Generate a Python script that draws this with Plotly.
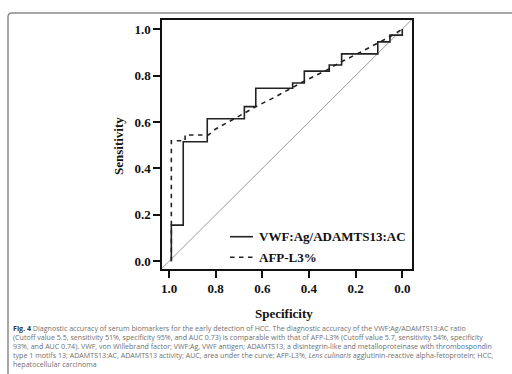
import plotly.graph_objects as go

# ---- data ----
series_names = ["VWF:Ag/ADAMTS13:AC", "AFP-L3%"]

vwf_spec = [0.99, 0.99, 0.939, 0.939, 0.836, 0.836, 0.677, 0.677, 0.628, 0.628, 0.47, 0.47,
            0.42, 0.42, 0.313, 0.313, 0.26, 0.26, 0.105, 0.105, 0.053, 0.053, 0.0, 0.0]
vwf_sens = [0.0, 0.156, 0.156, 0.515, 0.515, 0.614, 0.614, 0.666, 0.666, 0.745, 0.745, 0.768,
            0.768, 0.819, 0.819, 0.845, 0.845, 0.893, 0.893, 0.945, 0.945, 0.974, 0.974, 1.0]

afp_spec = [0.99, 0.99, 0.931, 0.931, 0.831, 0.80, 0.70, 0.628, 0.55, 0.47, 0.42, 0.33,
            0.26, 0.18, 0.103, 0.048, 0.0]
afp_sens = [0.0, 0.519, 0.519, 0.544, 0.544, 0.57, 0.625, 0.666, 0.705, 0.748, 0.776, 0.82,
            0.86, 0.90, 0.941, 0.97, 1.0]

diag_spec = [1.2, -0.2]
diag_sens = [1 - v for v in diag_spec]

tick_vals = [1.0, 0.8, 0.6, 0.4, 0.2, 0.0]
tick_text = ["1.0", "0.8", "0.6", "0.4", "0.2", "0.0"]

caption_lines = [
    "<span style='color:#333'><b>Fig. 4</b></span> Diagnostic accuracy of serum biomarkers for the early detection of HCC. The diagnostic accuracy of the VWF:Ag/ADAMTS13:AC ratio",
    "(Cutoff value 5.5, sensitivity 51%, specificity 95%, and AUC 0.73) is comparable with that of AFP-L3% (Cutoff value 5.7, sensitivity 54%, specificity",
    "93%, and AUC 0.74). VWF, von Willebrand factor; VWF:Ag, VWF antigen; ADAMTS13, a disintegrin-like and metalloproteinase with <span style='color:#4a76a8'>thrombospondin</span>",
    "type <span style='color:#4a76a8'>1</span> motifs 13; ADAMTS13:AC, ADAMTS13 activity; AUC, area under the curve; AFP-L3%, <i>Lens culinaris</i> agglutinin-reactive alpha-fetoprotein; HCC,",
    "hepatocellular carcinoma",
]

# ---- layout geometry (pixels) ----
W, H = 512, 374
PL, PR, PT, PB = 162, 412, 20, 269


def px2x(px):
    return (px - PL) / (PR - PL)


def py2y(py):
    return (PB - py) / (PB - PT)


SERIF = "Liberation Serif"
SANS = "Open Sans"
LINE_COLOR = "#222222"

fig = go.Figure()
fig.add_trace(go.Scatter(x=diag_spec, y=diag_sens, mode="lines",
                         line=dict(color="#9a9a9a", width=1), showlegend=False, hoverinfo="skip"))
fig.add_trace(go.Scatter(x=vwf_spec, y=vwf_sens, mode="lines", name=series_names[0],
                         line=dict(color=LINE_COLOR, width=1.6), showlegend=False))
fig.add_trace(go.Scatter(x=afp_spec, y=afp_sens, mode="lines", name=series_names[1],
                         line=dict(color=LINE_COLOR, width=1.6, dash="4.5px,4.5px"), showlegend=False))

axis_common = dict(
    showgrid=False, zeroline=False, showline=True, mirror=True,
    linecolor="#111", linewidth=1.5,
    ticks="outside", ticklen=7, tickwidth=1.5, tickcolor="#111",
    tickvals=tick_vals, ticktext=tick_text,
    tickfont=dict(family=SERIF, size=13, color="#111", weight="bold"),
)
fig.update_xaxes(range=[1.030, -0.0416], **axis_common)
fig.update_yaxes(range=[-0.033, 1.039], **axis_common)

annotations = []
# axis titles
annotations.append(dict(text="<b>Specificity</b>", x=px2x(284), y=py2y(313), xref="paper", yref="paper",
                        showarrow=False, xanchor="center", yanchor="middle",
                        font=dict(family=SERIF, size=13, color="#111")))
annotations.append(dict(text="<b>Sensitivity</b>", x=px2x(118), y=py2y(146), xref="paper", yref="paper",
                        showarrow=False, xanchor="center", yanchor="middle", textangle=-90,
                        font=dict(family=SERIF, size=13, color="#111")))
# legend
legend_rows = [(236.7, "solid"), (257.3, "4.5px,4.5px")]
shapes = []
for name, (ly, dash) in zip(series_names, legend_rows):
    shapes.append(dict(type="line", xref="paper", yref="paper",
                       x0=px2x(230), x1=px2x(253), y0=py2y(ly), y1=py2y(ly),
                       line=dict(color=LINE_COLOR, width=1.6, dash=dash)))
    annotations.append(dict(text="<b>" + name + "</b>", x=px2x(257), y=py2y(ly), xref="paper", yref="paper",
                            showarrow=False, xanchor="left", yanchor="middle",
                            font=dict(family=SERIF, size=13, color="#111")))
# caption
for i, line in enumerate(caption_lines):
    annotations.append(dict(text=line, x=px2x(11), y=py2y(328 + i * 9), xref="paper", yref="paper",
                            showarrow=False, xanchor="left", yanchor="middle", align="left",
                            font=dict(family=SANS, size=7.1, color="#707070")))

# outer figure frame (rounded top-left corner)
frame_path = (f"M {px2x(8)},{py2y(380)} L {px2x(8)},{py2y(17)} "
              f"Q {px2x(8)},{py2y(13)} {px2x(12)},{py2y(13)} L {px2x(520)},{py2y(13)}")
shapes.append(dict(type="path", xref="paper", yref="paper", path=frame_path,
                   line=dict(color="#8a8a8a", width=1.5)))

fig.update_layout(
    width=W, height=H,
    margin=dict(l=PL, r=W - PR, t=PT, b=H - PB),
    paper_bgcolor="white", plot_bgcolor="white",
    annotations=annotations, shapes=shapes,
    showlegend=False,
)

fig.write_html("out.html", config={"displayModeBar": False},
               post_script="document.body.style.margin='0px';document.body.style.padding='0px';"
                           "document.body.style.overflow='hidden';")
